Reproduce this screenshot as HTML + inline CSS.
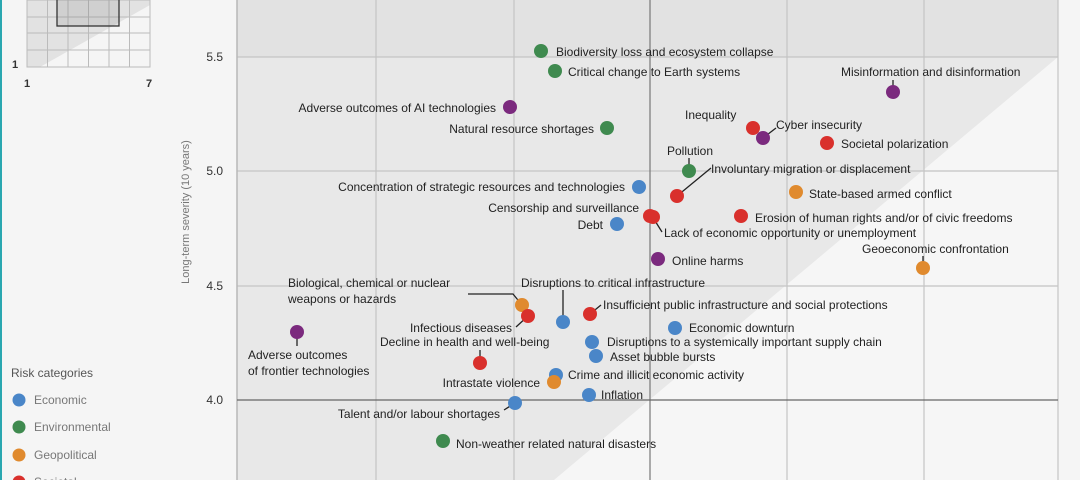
<!DOCTYPE html>
<html><head><meta charset="utf-8"><style>
html,body{margin:0;padding:0;background:#f5f5f5;}
svg{display:block;font-family:"Liberation Sans",Arial,sans-serif;}
</style></head><body>
<svg width="1080" height="480" viewBox="0 0 1080 480" xmlns="http://www.w3.org/2000/svg">
<rect width="1080" height="480" fill="#f5f5f5"/>
<rect x="0" y="0" width="2" height="480" fill="#2aa7b0"/>
<!-- plot background -->
<rect x="237" y="0" width="821" height="480" fill="#f6f6f6"/>
<polygon points="237,0 1058,0 1058,57 554,480 237,480" fill="#e8e8e8"/>
<rect x="237" y="0" width="821" height="57" fill="#e2e2e2"/>
<!-- grid -->
<g stroke="#c4c4c4" stroke-width="1.2">
<line x1="376" y1="0" x2="376" y2="480"/><line x1="514" y1="0" x2="514" y2="480"/>
<line x1="787" y1="0" x2="787" y2="480"/><line x1="924" y1="0" x2="924" y2="480"/>
<line x1="1058" y1="0" x2="1058" y2="480"/>
<line x1="237" y1="57" x2="1058" y2="57"/><line x1="237" y1="171" x2="1058" y2="171"/>
<line x1="237" y1="286" x2="1058" y2="286"/>
</g>
<line x1="237" y1="0" x2="237" y2="480" stroke="#b8b8b8" stroke-width="1.5"/>
<line x1="650" y1="0" x2="650" y2="480" stroke="#777" stroke-width="1.2"/>
<line x1="237" y1="400" x2="1058" y2="400" stroke="#666" stroke-width="1.2"/>
<!-- axis labels -->
<g font-size="12" fill="#333">
<text x="223" y="61" text-anchor="end">5.5</text>
<text x="223" y="175" text-anchor="end">5.0</text>
<text x="223" y="290" text-anchor="end">4.5</text>
<text x="223" y="404" text-anchor="end">4.0</text>
</g>
<text transform="translate(189,212) rotate(-90)" font-size="11" fill="#777" text-anchor="middle">Long-term severity (10 years)</text>
<!-- inset -->
<polygon points="27,0 150,0 150,5 40,67 27,67" fill="#e2e2e2"/>
<rect x="27" y="0" width="123" height="67" fill="none" stroke="#bbb"/>
<g stroke="#bbb"><line x1="47.5" y1="0" x2="47.5" y2="67"/><line x1="68" y1="0" x2="68" y2="67"/><line x1="88.5" y1="0" x2="88.5" y2="67"/><line x1="109" y1="0" x2="109" y2="67"/><line x1="129.5" y1="0" x2="129.5" y2="67"/>
<line x1="27" y1="17" x2="150" y2="17"/><line x1="27" y1="33" x2="150" y2="33"/><line x1="27" y1="50" x2="150" y2="50"/></g>
<rect x="57" y="-2" width="62" height="28" fill="rgba(0,0,0,0.08)" stroke="#333" stroke-width="1.3"/>
<g font-size="11" fill="#333" font-weight="bold"><text x="12" y="68">1</text><text x="24" y="87">1</text><text x="146" y="87">7</text></g>
<!-- legend -->
<text x="11" y="377" font-size="12" fill="#555">Risk categories</text>
<g font-size="12" fill="#777">
<circle cx="19" cy="400" r="6.5" fill="#4a86c8"/><text x="34" y="404">Economic</text>
<circle cx="19" cy="427" r="6.5" fill="#3f8a4f"/><text x="34" y="431">Environmental</text>
<circle cx="19" cy="455" r="6.5" fill="#e08a2e"/><text x="34" y="459">Geopolitical</text>
<circle cx="19" cy="482" r="6.5" fill="#d9302c"/><text x="34" y="486">Societal</text>
</g>
<!-- leader lines -->
<g stroke="#222" stroke-width="1.3" fill="none">
<line x1="893" y1="80" x2="893" y2="92"/>
<line x1="763" y1="138" x2="776" y2="128"/>
<line x1="677" y1="196" x2="711" y2="168"/>
<line x1="923" y1="256" x2="923" y2="268"/>
<polyline points="468,294 513,294 522,305"/>
<line x1="516" y1="327" x2="528" y2="316"/>
<line x1="563" y1="290" x2="563" y2="322"/>
<line x1="590" y1="314" x2="601" y2="305"/>
<line x1="480" y1="350" x2="480" y2="363"/>
<line x1="297" y1="332" x2="297" y2="346"/>
<line x1="504" y1="410" x2="515" y2="403"/>
<line x1="652" y1="216" x2="662" y2="232"/>
<line x1="689" y1="158" x2="689" y2="171"/>
</g>
<!-- dots -->
<g>
<circle cx="541" cy="51" r="7" fill="#3f8a4f"/>
<circle cx="555" cy="71" r="7" fill="#3f8a4f"/>
<circle cx="893" cy="92" r="7" fill="#7b2a7e"/>
<circle cx="510" cy="107" r="7" fill="#7b2a7e"/>
<circle cx="607" cy="128" r="7" fill="#3f8a4f"/>
<circle cx="753" cy="128" r="7" fill="#d9302c"/>
<circle cx="763" cy="138" r="7" fill="#7b2a7e"/>
<circle cx="827" cy="143" r="7" fill="#d9302c"/>
<circle cx="689" cy="171" r="7" fill="#3f8a4f"/>
<circle cx="677" cy="196" r="7" fill="#d9302c"/>
<circle cx="796" cy="192" r="7" fill="#e08a2e"/>
<circle cx="639" cy="187" r="7" fill="#4a86c8"/>
<circle cx="617" cy="224" r="7" fill="#4a86c8"/>
<circle cx="650" cy="216" r="7" fill="#d9302c"/>
<circle cx="653" cy="217" r="7" fill="#d9302c"/>
<circle cx="741" cy="216" r="7" fill="#d9302c"/>
<circle cx="658" cy="259" r="7" fill="#7b2a7e"/>
<circle cx="923" cy="268" r="7" fill="#e08a2e"/>
<circle cx="522" cy="305" r="7" fill="#e08a2e"/>
<circle cx="528" cy="316" r="7" fill="#d9302c"/>
<circle cx="563" cy="322" r="7" fill="#4a86c8"/>
<circle cx="590" cy="314" r="7" fill="#d9302c"/>
<circle cx="480" cy="363" r="7" fill="#d9302c"/>
<circle cx="297" cy="332" r="7" fill="#7b2a7e"/>
<circle cx="675" cy="328" r="7" fill="#4a86c8"/>
<circle cx="592" cy="342" r="7" fill="#4a86c8"/>
<circle cx="596" cy="356" r="7" fill="#4a86c8"/>
<circle cx="556" cy="375" r="7" fill="#4a86c8"/>
<circle cx="554" cy="382" r="7" fill="#e08a2e"/>
<circle cx="589" cy="395" r="7" fill="#4a86c8"/>
<circle cx="515" cy="403" r="7" fill="#4a86c8"/>
<circle cx="443" cy="441" r="7" fill="#3f8a4f"/>
</g>
<!-- labels -->
<g font-size="12" fill="#222">
<text x="556" y="56">Biodiversity loss and ecosystem collapse</text>
<text x="568" y="76">Critical change to Earth systems</text>
<text x="841" y="76">Misinformation and disinformation</text>
<text x="496" y="112" text-anchor="end">Adverse outcomes of AI technologies</text>
<text x="594" y="133" text-anchor="end">Natural resource shortages</text>
<text x="685" y="119">Inequality</text>
<text x="776" y="129">Cyber insecurity</text>
<text x="841" y="148">Societal polarization</text>
<text x="667" y="155">Pollution</text>
<text x="711" y="173">Involuntary migration or displacement</text>
<text x="809" y="198">State-based armed conflict</text>
<text x="625" y="191" text-anchor="end">Concentration of strategic resources and technologies</text>
<text x="639" y="212" text-anchor="end">Censorship and surveillance</text>
<text x="603" y="229" text-anchor="end">Debt</text>
<text x="664" y="237">Lack of economic opportunity or unemployment</text>
<text x="755" y="222">Erosion of human rights and/or of civic freedoms</text>
<text x="672" y="265">Online harms</text>
<text x="862" y="253">Geoeconomic confrontation</text>
<text x="288" y="287">Biological, chemical or nuclear</text>
<text x="288" y="303">weapons or hazards</text>
<text x="521" y="287">Disruptions to critical infrastructure</text>
<text x="603" y="309">Insufficient public infrastructure and social protections</text>
<text x="512" y="332" text-anchor="end">Infectious diseases</text>
<text x="380" y="346">Decline in health and well-being</text>
<text x="248" y="359">Adverse outcomes</text>
<text x="248" y="375">of frontier technologies</text>
<text x="689" y="332">Economic downturn</text>
<text x="607" y="346">Disruptions to a systemically important supply chain</text>
<text x="610" y="361">Asset bubble bursts</text>
<text x="568" y="379">Crime and illicit economic activity</text>
<text x="540" y="387" text-anchor="end">Intrastate violence</text>
<text x="601" y="399">Inflation</text>
<text x="500" y="418" text-anchor="end">Talent and/or labour shortages</text>
<text x="456" y="448">Non-weather related natural disasters</text>
</g>
</svg>
</body></html>
